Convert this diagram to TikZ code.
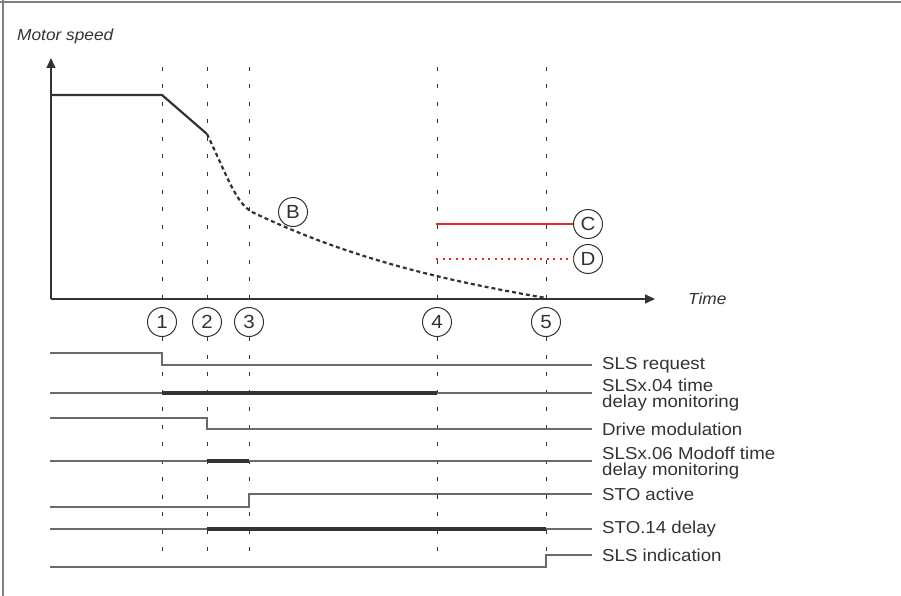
\documentclass[tikz,border=0pt]{standalone}
\usepackage{fontspec}
\setmainfont{Liberation Sans}[FakeStretch=1.08]
\usetikzlibrary{arrows.meta}
\definecolor{dk}{HTML}{333333}
\definecolor{sg}{HTML}{6A6A6A}
\definecolor{fr}{HTML}{808080}
\definecolor{rd}{HTML}{E8262B}
\tikzset{
  frameline/.style={draw=fr, line width=1.6},
  axisline/.style={draw=dk, line width=1.5, -{Triangle[length=10pt,width=9pt]}},
  vdash/.style={draw=dk, line width=1, dash pattern=on 4pt off 13.5pt},
  speedline/.style={draw=dk, line width=2.2},
  speeddash/.style={draw=dk, line width=2.2, dash pattern=on 4pt off 3pt},
  sigline/.style={draw=sg, line width=1.3},
  barline/.style={draw=dk, line width=4},
  marker/.style={circle, draw=dk, line width=1, fill=white, minimum size=29pt, inner sep=0pt,
    font=\fontsize{19}{19}\selectfont, text=dk},
  lbl/.style={anchor=west, inner xsep=10pt, inner ysep=0pt, align=left, text=dk,
    font=\fontsize{17.3}{16}\selectfont},
  axlbl/.style={anchor=west, inner sep=0pt, text=dk, font=\fontsize{16}{16}\selectfont\itshape},
  redsolid/.style={draw=rd, line width=2},
  reddot/.style={draw=rd, line width=2, dash pattern=on 2pt off 4.5pt}
}
\begin{document}
\begin{tikzpicture}[x=1pt,y=-1pt]
\useasboundingbox (0,0) rectangle (901,596);
% frame
\draw[frameline] (0,2) -- (901,2);
\draw[frameline] (3,0) -- (3,596);
% axis labels
\node[axlbl] (ms) at (17,36) {Motor speed};
\node[axlbl] (tm) at (688,299) {Time};
% axes
\coordinate (o) at (51,299);
\coordinate (ytip) at (51,58);
\coordinate (xtip) at (655,299);
\draw[axisline] (o) -- (ytip);
\draw[axisline] (o) -- (xtip);
% markers
\node[marker] (m1) at (162,322) {1};
\node[marker] (m2) at (207,322) {2};
\node[marker] (m3) at (249,322) {3};
\node[marker] (m4) at (437,322) {4};
\node[marker] (m5) at (546,322) {5};
% vertical dashed lines
\foreach \i/\x in {1/162,2/207,3/249,4/437,5/546}{
  \coordinate (top\i) at (\x,67);
  \coordinate (bot\i) at (\x,553);
  \draw[vdash] (top\i) -- (m\i.north);
  \draw[vdash] (m\i.south) -- (bot\i);
}
% speed curve
\coordinate (s0) at (51,95);
\coordinate (s1) at (162,95);
\coordinate (s2) at (207,134);
\coordinate (s3) at (252,212);
\coordinate (s4) at (546,298);
\draw[speedline, line join=round] (s0) -- (s1) -- (s2);
\draw[speeddash] (s2) .. controls (228,178) and (236,203) .. (s3)
                      .. controls (350,259) and (447,281) .. (s4);
\node[marker] (B) at (293,212) {B};
% C and D
\node[marker] (C) at (588,224) {C};
\node[marker] (D) at (588,259) {D};
\coordinate (c0) at (436,224);
\coordinate (d0) at (436,259);
\draw[redsolid] (c0) -- (C.west);
\draw[reddot] (d0) -- (D.west);
% timing labels
\node[lbl] (n1) at (592,365) {SLS request};
\node[lbl] (n2) at (592,395) {SLSx.04 time\\delay monitoring};
\node[lbl] (n3) at (592,429) {Drive modulation};
\node[lbl] (n4) at (592,463) {SLSx.06 Modoff time\\delay monitoring};
\node[lbl] (n5) at (592,494) {STO active};
\node[lbl] (n6) at (592,529) {STO.14 delay};
\node[lbl] (n7) at (592,555) {SLS indication};
% signals
\coordinate (e2) at (592,393);
\coordinate (e4) at (592,461);
\draw[sigline] (50,353) -- (162,353) -- (162,365) -- (n1.west);
\draw[sigline] (50,393) -- (e2);
\draw[barline] (162,393) -- (437,393);
\draw[sigline] (50,418) -- (207,418) -- (207,429) -- (n3.west);
\draw[sigline] (50,461) -- (e4);
\draw[barline] (207,461) -- (249,461);
\draw[sigline] (50,507) -- (249,507) -- (249,494) -- (n5.west);
\draw[sigline] (50,529) -- (n6.west);
\draw[barline] (207,529) -- (546,529);
\draw[sigline] (50,567) -- (546,567) -- (546,555) -- (n7.west);
\end{tikzpicture}
\end{document}
